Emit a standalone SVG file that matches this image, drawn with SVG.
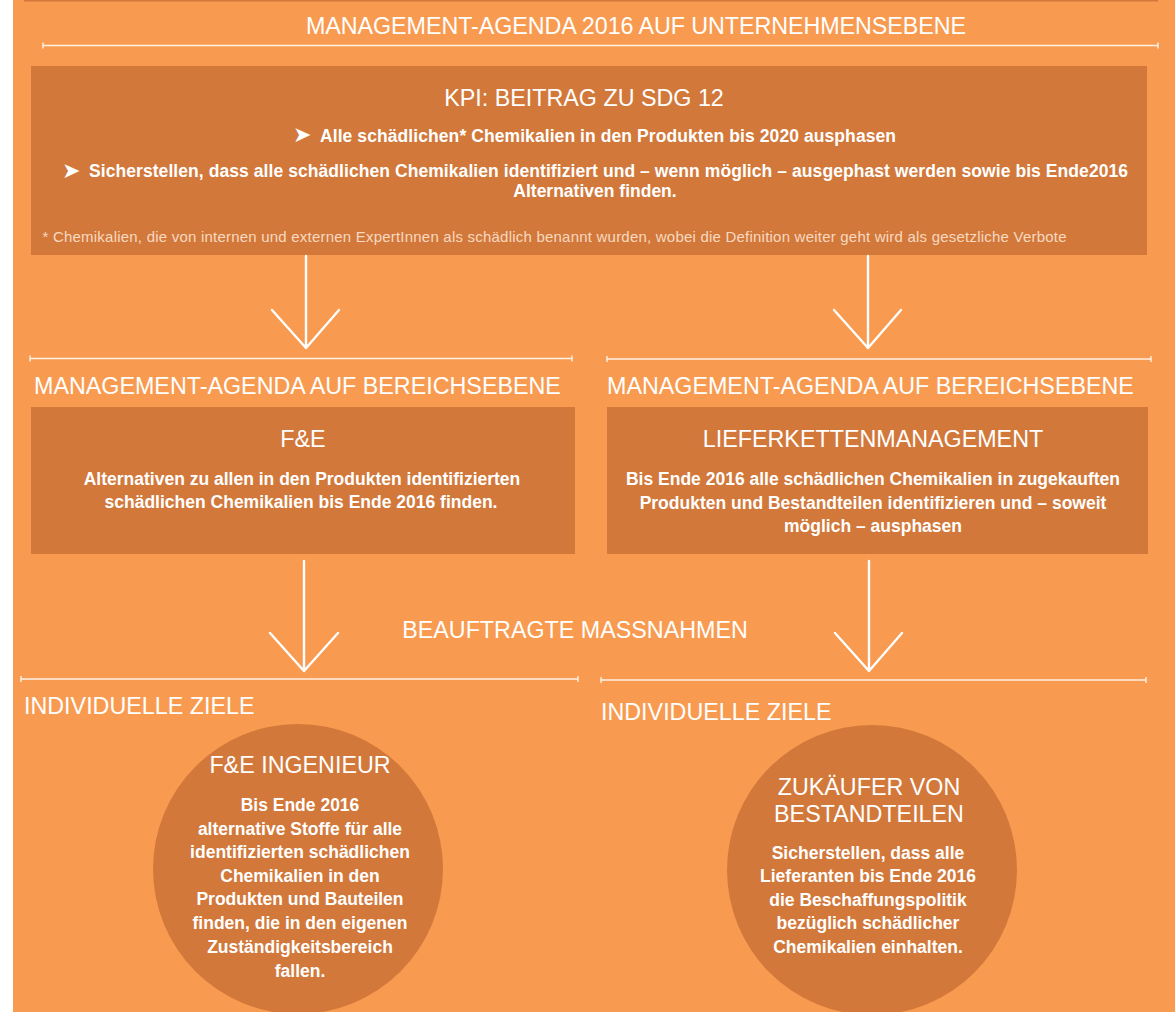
<svg xmlns="http://www.w3.org/2000/svg" width="1175" height="1012" viewBox="0 0 1175 1012">
<style>
.h{font-family:"Liberation Sans",Arial,sans-serif;font-size:23.3px;fill:#fff}
.b{font-family:"Liberation Sans",Arial,sans-serif;font-size:17.5px;font-weight:bold;fill:#fff}
.fn{font-family:"Liberation Sans",Arial,sans-serif;font-size:15px;fill:#F8D8C0}
.bul{font-family:"DejaVu Sans",sans-serif;font-size:22px;fill:#fff}
.m{text-anchor:middle}
.box{fill:#D2783A}
.rule{stroke:#FFF1E4;stroke-width:1.4;fill:none}
.arr{stroke:#fff;stroke-width:2.4;fill:none;stroke-linecap:round;stroke-linejoin:round}
</style>
<rect x="0" y="0" width="1175" height="1012" fill="#fff"/>
<rect x="13" y="0" width="1162" height="1012" fill="#F89B50"/>
<rect x="24" y="0" width="1134" height="1.5" fill="#D2783A"/>

<g id="rules">
<path class="rule" d="M43 45.5H1158M43 42.5V48.5M1158 42.5V48.5"/>
<path class="rule" d="M30 358.5H572M30 355.5V361.5M572 355.5V361.5"/>
<path class="rule" d="M607 359H1151M607 356V362M1151 356V362"/>
<path class="rule" d="M21 679H578M21 676V682M578 676V682"/>
<path class="rule" d="M601 680H1146M601 677V683M1146 677V683"/>
</g>

<g id="label-unternehmen">
<text class="h m" x="636" y="34" textLength="660">MANAGEMENT-AGENDA 2016 AUF UNTERNEHMENSEBENE</text>
</g>

<g id="kpi">
<rect class="box" x="31" y="66" width="1116" height="189"/>
<text class="h m" x="584" y="106">KPI: BEITRAG ZU SDG 12</text>
<text class="bul" x="293" y="142">➤</text>
<text class="b" x="320" y="141.5" textLength="576">Alle schädlichen* Chemikalien in den Produkten bis 2020 ausphasen</text>
<text class="bul" x="62" y="177.5">➤</text>
<text class="b" x="89" y="177" textLength="1039">Sicherstellen, dass alle schädlichen Chemikalien identifiziert und – wenn möglich – ausgephast werden sowie bis Ende2016</text>
<text class="b m" x="595" y="197">Alternativen finden.</text>
<text class="fn" x="42.5" y="241.5" textLength="1024">* Chemikalien, die von internen und externen ExpertInnen als schädlich benannt wurden, wobei die Definition weiter geht wird als gesetzliche Verbote</text>
</g>

<g id="label-bereich-left">
<text class="h" x="34" y="394">MANAGEMENT-AGENDA AUF BEREICHSEBENE</text>
</g>
<g id="label-bereich-right">
<text class="h" x="607" y="394">MANAGEMENT-AGENDA AUF BEREICHSEBENE</text>
</g>

<g id="fe">
<rect class="box" x="31" y="407" width="544" height="147"/>
<text class="h m" x="303" y="447">F&amp;E</text>
<text class="b m" x="302" y="485">Alternativen zu allen in den Produkten identifizierten</text>
<text class="b m" x="301" y="508">schädlichen Chemikalien bis Ende 2016 finden.</text>
</g>

<g id="lieferkette">
<rect class="box" x="607" y="407" width="541" height="147"/>
<text class="h m" x="873" y="447">LIEFERKETTENMANAGEMENT</text>
<text class="b m" x="873" y="485">Bis Ende 2016 alle schädlichen Chemikalien in zugekauften</text>
<text class="b m" x="873" y="509">Produkten und Bestandteilen identifizieren und – soweit</text>
<text class="b m" x="873" y="532">möglich – ausphasen</text>
</g>

<g id="label-massnahmen">
<text class="h m" x="575" y="638">BEAUFTRAGTE MASSNAHMEN</text>
</g>

<g id="label-ziele-left">
<text class="h" x="24" y="714">INDIVIDUELLE ZIELE</text>
</g>
<g id="label-ziele-right">
<text class="h" x="601" y="720">INDIVIDUELLE ZIELE</text>
</g>

<g id="ingenieur">
<circle class="box" cx="298" cy="869" r="145"/>
<text class="h m" x="300" y="773">F&amp;E INGENIEUR</text>
<text class="b m" x="300" y="811">Bis Ende 2016</text>
<text class="b m" x="300" y="834.5">alternative Stoffe für alle</text>
<text class="b m" x="300" y="858">identifizierten schädlichen</text>
<text class="b m" x="300" y="881.5">Chemikalien in den</text>
<text class="b m" x="300" y="905">Produkten und Bauteilen</text>
<text class="b m" x="300" y="929">finden, die in den eigenen</text>
<text class="b m" x="300" y="952.5">Zuständigkeitsbereich</text>
<text class="b m" x="300" y="976.5">fallen.</text>
</g>

<g id="zukaeufer">
<circle class="box" cx="872" cy="870" r="145"/>
<text class="h m" x="869" y="795">ZUKÄUFER VON</text>
<text class="h m" x="869" y="822">BESTANDTEILEN</text>
<text class="b m" x="868" y="859">Sicherstellen, dass alle</text>
<text class="b m" x="868" y="882">Lieferanten bis Ende 2016</text>
<text class="b m" x="868" y="906">die Beschaffungspolitik</text>
<text class="b m" x="868" y="929">bezüglich schädlicher</text>
<text class="b m" x="868" y="953">Chemikalien einhalten.</text>
</g>

<g id="connectors">
<path class="arr" d="M306 256V345M272 310L306 348L339 310"/>
<path class="arr" d="M868 256V345M834 310L868 348L901 310"/>
<path class="arr" d="M304 561V668M270 633L304 671L338 633"/>
<path class="arr" d="M869 561V668M835 633L869 671L902 633"/>
</g>
</svg>
